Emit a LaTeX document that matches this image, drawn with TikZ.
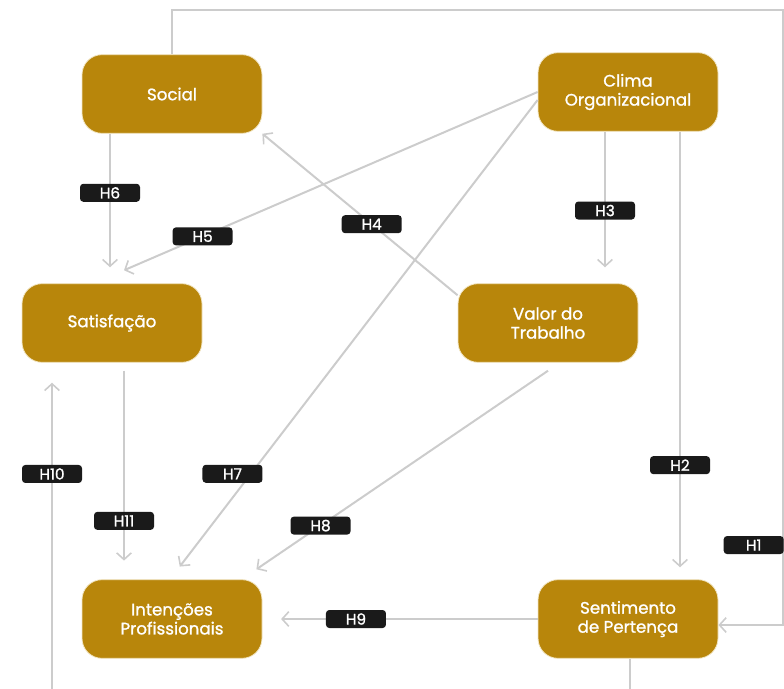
\documentclass[tikz,border=0pt]{standalone}
\usepackage{fontspec}
\setmainfont{Poppins}
\newfontfamily\medfont{Poppins}[RawFeature={embolden=1.2}]
\usepackage{tikz}
\usetikzlibrary{shapes,arrows.meta,positioning,calc}

\definecolor{gold}{HTML}{B8860B}
\definecolor{goldedge}{HTML}{F2E6C4}
\definecolor{wire}{HTML}{CCCCCC}
\definecolor{tagfill}{HTML}{1A1A1A}

\begin{document}
\begin{tikzpicture}[x=0.75pt, y=-0.75pt,
  construct/.style={draw=goldedge, line width=0.6pt, fill=gold, rounded corners=15pt,
    minimum width=135pt, minimum height=59pt, align=center, text=white,
    font=\medfont\fontsize{12.5}{14.25}\selectfont},
  tag/.style={fill=tagfill, text=white, rounded corners=2.5pt, inner sep=0pt,
    minimum width=45pt, minimum height=13.5pt, font=\medfont\fontsize{11.5}{12}\selectfont},
  path/.style={draw=wire, line width=1.5pt, -{Straight Barb[length=5pt,width=11pt,line width=1.2pt]}}]
  \useasboundingbox (0,0) rectangle (784,688);
  \clip (0,0) rectangle (784,688);

  % Constructs
  \node[construct] (social) at (172,94) {Social};
  \node[construct] (clima) at (628,92) {Clima\\Organizacional};
  \node[construct] (satisf) at (112,323) {Satisfação};
  \node[construct] (valor) at (548,323) {Valor do\\Trabalho};
  \node[construct] (intenc) at (172,619) {Intenções\\Profissionais};
  \node[construct] (perten) at (628,619) {Sentimento\\de Pertença};

  % Anchors for the free ends
  \coordinate (h1top) at (172,10);
  \coordinate (h1right) at (783,10);
  \coordinate (h10low) at (630,705);

  % Hypotheses
  \draw[path] (social.north) -- (h1top) -- (h1right)
    -- (h1right |- 0,625) node[pos=0.87, xshift=-22pt, tag] (h1) {H1}
    -- (perten.east |- 0,625);
  \draw[path, shorten >=9pt] (clima.south -| 680,0) -- (perten.north -| 680,0)
    node[pos=0.745, tag] (h2) {H2};
  \draw[path, shorten >=12pt] (clima.south -| 605,0) -- (valor.north -| 605,0)
    node[pos=0.52, tag] (h3) {H3};
  \draw[path] (valor.north west) ++(0,12) -- (social.south east)
    node[pos=0.44, tag] (h4) {H4};
  \draw[path] (clima.west) -- ($(satisf.north)+(12,-13)$)
    node[pos=0.81, tag] (h5) {H5};
  \draw[path, shorten >=12pt] (social.south -| 110,0) -- (satisf.north -| 110,0)
    node[pos=0.395, tag] (h6) {H6};
  \draw[path, shorten >=12pt] ($(clima.west)+(0,8)$) -- ($(intenc.north)+(-2,0)$)
    node[pos=0.83, yshift=18pt, tag] (h7) {H7};
  \draw[path] ($(valor.south)+(0,8)$) -- ($(intenc.north east)+(-6,-10)$)
    node[pos=0.78, tag] (h8) {H8};
  \draw[path, shorten >=14pt] (perten.west) -- (intenc.east)
    node[pos=0.66, tag] (h9) {H9};
  \draw[path, shorten >=15pt] (perten.south -| 630,0) -- (h10low) -- (h10low -| 52,0)
    -- (satisf.south -| 52,0) node[pos=0.675, tag] (h10) {H10};
  \draw[path, shorten >=14pt] ($(satisf.south)+(12,8)$) -- (intenc.north -| 124,0)
    node[pos=0.72, tag] (h11) {H11};
\end{tikzpicture}
\end{document}
